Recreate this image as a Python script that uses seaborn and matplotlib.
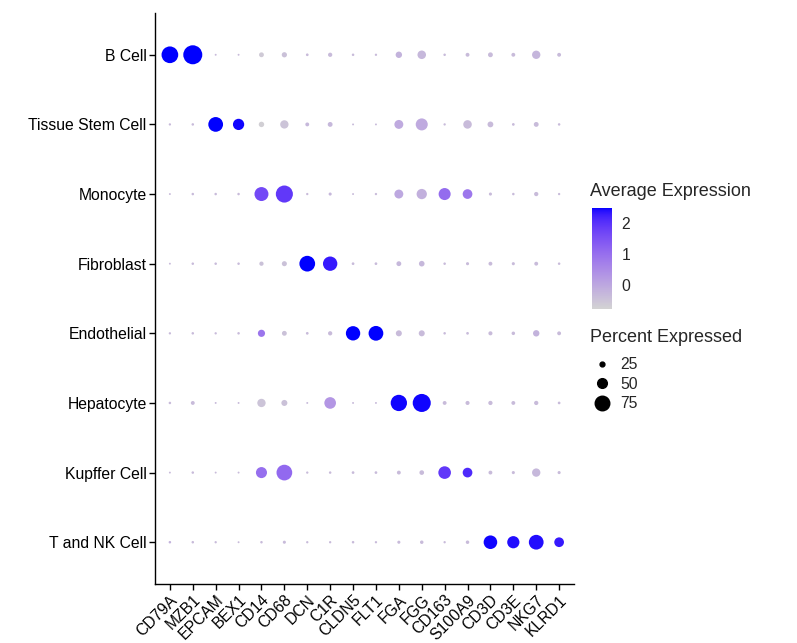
import numpy as np
import pandas as pd
import matplotlib
matplotlib.use("Agg")
import matplotlib.pyplot as plt
from matplotlib.colors import ListedColormap, Normalize
from matplotlib.lines import Line2D
import matplotlib.cm as cm
import seaborn as sns

genes = ["CD79A", "MZB1", "EPCAM", "BEX1", "CD14", "CD68", "DCN", "C1R", "CLDN5",
         "FLT1", "FGA", "FGG", "CD163", "S100A9", "CD3D", "CD3E", "NKG7", "KLRD1"]
cell_types = ["B Cell", "Tissue Stem Cell", "Monocyte", "Fibroblast", "Endothelial",
              "Hepatocyte", "Kupffer Cell", "T and NK Cell"]

# Percent expressed per cell type (gene order as above)
pct_b_cell      = [86, 98, 10, 10, 25, 27, 14, 22, 13, 12, 33, 44, 13, 20, 25, 20, 43, 20]
pct_tissue_stem = [12, 13, 76, 58, 28, 43, 20, 25, 10, 10, 46, 62, 12, 44, 30, 14, 25, 13]
pct_monocyte    = [10, 13, 13, 13, 72, 88, 12, 16, 10, 12, 46, 53, 62, 50, 16, 13, 22, 12]
pct_fibroblast  = [10, 13, 13, 13, 22, 26, 81, 74, 14, 14, 25, 29, 13, 16, 20, 16, 20, 13]
pct_endothelial = [12, 13, 12, 13, 37, 25, 14, 22, 74, 76, 31, 31, 13, 14, 21, 18, 33, 20]
pct_hepatocyte  = [13, 20, 10, 10, 43, 31, 10, 60, 10, 10, 84, 93, 20, 21, 22, 20, 22, 14]
pct_kupffer     = [10, 13, 10, 10, 57, 81, 12, 13, 14, 14, 20, 24, 65, 50, 20, 16, 43, 16]
pct_t_nk        = [13, 13, 12, 10, 13, 16, 12, 12, 13, 12, 16, 18, 12, 18, 70, 63, 76, 50]

# Scaled average expression per cell type
avg_b_cell      = [2.47, 2.47, -0.35, -0.35, -0.6, -0.45, -0.35, -0.35, -0.35, -0.35, -0.2, -0.3, -0.35, -0.35, -0.35, -0.35, -0.25, -0.35]
avg_tissue_stem = [-0.35, -0.35, 2.47, 2.45, -0.7, -0.5, -0.3, -0.3, -0.35, -0.35, -0.05, -0.05, -0.35, -0.35, -0.35, -0.35, -0.35, -0.35]
avg_monocyte    = [-0.35, -0.35, -0.35, -0.35, 1.65, 1.9, -0.35, -0.3, -0.35, -0.35, 0.0, -0.15, 1.05, 0.85, -0.35, -0.35, -0.35, -0.35]
avg_fibroblast  = [-0.35, -0.35, -0.35, -0.35, -0.45, -0.45, 2.47, 2.3, -0.35, -0.35, -0.3, -0.3, -0.35, -0.35, -0.35, -0.35, -0.35, -0.35]
avg_endothelial = [-0.35, -0.35, -0.35, -0.35, 0.9, -0.45, -0.35, -0.35, 2.47, 2.47, -0.35, -0.35, -0.35, -0.35, -0.35, -0.35, -0.2, -0.35]
avg_hepatocyte  = [-0.35, -0.35, -0.35, -0.35, -0.5, -0.45, -0.35, 0.3, -0.35, -0.35, 2.45, 2.45, -0.35, -0.35, -0.35, -0.35, -0.35, -0.35]
avg_kupffer     = [-0.35, -0.35, -0.35, -0.35, 1.0, 1.1, -0.35, -0.35, -0.35, -0.35, -0.35, -0.35, 1.9, 2.1, -0.35, -0.35, -0.3, -0.35]
avg_t_nk        = [-0.2, -0.35, -0.35, -0.35, -0.35, -0.35, -0.35, -0.35, -0.35, -0.35, -0.35, -0.35, -0.35, -0.35, 2.45, 2.4, 2.4, 2.3]

pct_rows = [pct_b_cell, pct_tissue_stem, pct_monocyte, pct_fibroblast,
            pct_endothelial, pct_hepatocyte, pct_kupffer, pct_t_nk]
avg_rows = [avg_b_cell, avg_tissue_stem, avg_monocyte, avg_fibroblast,
            avg_endothelial, avg_hepatocyte, avg_kupffer, avg_t_nk]

color_limits = (-0.77, 2.48)
legend_pcts = [25, 50, 75]
cbar_ticks = [0, 1, 2]

# ---- colour scale: lightgrey -> blue interpolated in CIE Lab (like ggplot) ----
def _srgb_to_lab(rgb):
    c = np.asarray(rgb, float) / 255.0
    lin = np.where(c <= 0.04045, c / 12.92, ((c + 0.055) / 1.055) ** 2.4)
    M = np.array([[0.4124564, 0.3575761, 0.1804375],
                  [0.2126729, 0.7151522, 0.0721750],
                  [0.0193339, 0.1191920, 0.9503041]])
    xyz = M @ lin / np.array([0.95047, 1.0, 1.08883])
    f = np.where(xyz > (6 / 29) ** 3, np.cbrt(xyz), xyz / (3 * (6 / 29) ** 2) + 4 / 29)
    return np.array([116 * f[1] - 16, 500 * (f[0] - f[1]), 200 * (f[1] - f[2])])

def _lab_to_srgb(lab):
    L, a, b = lab
    fy = (L + 16) / 116
    fx = fy + a / 500
    fz = fy - b / 200
    f = np.array([fx, fy, fz])
    xyz = np.where(f > 6 / 29, f ** 3, 3 * (6 / 29) ** 2 * (f - 4 / 29))
    xyz = xyz * np.array([0.95047, 1.0, 1.08883])
    Minv = np.array([[3.2404542, -1.5371385, -0.4985314],
                     [-0.9692660, 1.8760108, 0.0415560],
                     [0.0556434, -0.2040259, 1.0572252]])
    lin = np.clip(Minv @ xyz, 0, 1)
    c = np.where(lin <= 0.0031308, 12.92 * lin, 1.055 * lin ** (1 / 2.4) - 0.055)
    return np.clip(c, 0, 1)

lab_lo = _srgb_to_lab([211, 211, 211])
lab_hi = _srgb_to_lab([0, 0, 255])
cmap = ListedColormap([_lab_to_srgb(lab_lo + t * (lab_hi - lab_lo)) for t in np.linspace(0, 1, 256)])

# ---- tidy data ----
records = []
for ct, prow, arow in zip(cell_types, pct_rows, avg_rows):
    for g, p, a in zip(genes, prow, arow):
        records.append((g, ct, p, a))
df = pd.DataFrame(records, columns=["gene", "cell", "pct", "avg"])
df["gene"] = pd.Categorical(df["gene"], categories=genes, ordered=True)
df["cell"] = pd.Categorical(df["cell"], categories=cell_types, ordered=True)
df["area"] = df["pct"] ** 2  # radius proportional to percent (scale_radius)

W, H, DPI = 797, 643, 100
max_radius_px = 9.7
smax = (2 * max_radius_px * 72 / DPI) ** 2

sns.set_theme(style="white")
plt.rcParams["font.family"] = ["Liberation Sans", "DejaVu Sans"]

fig = plt.figure(figsize=(W / DPI, H / DPI), dpi=DPI)
ax = fig.add_axes([155 / W, 1 - 584 / H, (574 - 155) / W, (584 - 13) / H])

sns.scatterplot(data=df, x="gene", y="cell", hue="avg", size="area",
                palette=cmap, hue_norm=color_limits,
                sizes=(0, smax), size_norm=(0, 100 ** 2),
                linewidth=0, edgecolor="none", legend=False, ax=ax)

ax.set_xlim(-0.65, len(genes) - 0.35)
ax.set_ylim(len(cell_types) - 0.4, -0.6)
ax.set_xticks(range(len(genes)))
ax.set_xticklabels(genes, rotation=45, ha="right", va="top", rotation_mode="anchor")
ax.set_yticks(range(len(cell_types)))
ax.set_yticklabels(cell_types)
ax.set_xlabel("")
ax.set_ylabel("")
for side in ["top", "right"]:
    ax.spines[side].set_visible(False)
for side in ["left", "bottom"]:
    ax.spines[side].set_color("black")
    ax.spines[side].set_linewidth(1.0)
ax.tick_params(axis="both", which="major", direction="out", length=4, width=1.0,
               color="black", labelsize=11.3, labelcolor="black", pad=2,
               left=True, bottom=True)
ax.grid(False)

# ---- colourbar legend ----
cax = fig.add_axes([592 / W, 1 - 309 / H, 20 / W, 101 / H])
sm = cm.ScalarMappable(norm=Normalize(*color_limits), cmap=cmap)
cb = fig.colorbar(sm, cax=cax, ticks=cbar_ticks)
cb.outline.set_visible(False)
cax.tick_params(axis="y", direction="in", length=4, width=0.8, color="white",
                left=True, right=True, labelleft=False, labelright=True,
                labelsize=11.3, pad=7)
cax.set_yticklabels([str(t) for t in cbar_ticks])
fig.text(590 / W, 1 - 191 / H, "Average Expression", fontsize=13, ha="left", va="center")

# ---- size legend ----
fig.text(590 / W, 1 - 338 / H, "Percent Expressed", fontsize=13, ha="left", va="center")
handles = [Line2D([], [], ls="", marker="o", color="black",
                  markersize=2 * max_radius_px * p / 100 * 72 / DPI) for p in legend_pcts]
leg = fig.legend(handles, [str(p) for p in legend_pcts],
                 loc="upper left", bbox_to_anchor=(590 / W, 1 - 357 / H),
                 frameon=False, fontsize=11.3,
                 handlelength=1.5, handletextpad=0.45, labelspacing=0.3,
                 borderpad=0, borderaxespad=0)

fig.savefig("out.png", dpi=DPI)
